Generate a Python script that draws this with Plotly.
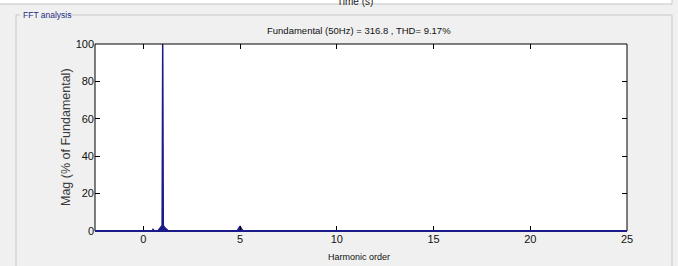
import plotly.graph_objects as go

# Data
harmonic_order = [0.0, 0.45, 0.5, 0.55, 0.75, 0.8, 0.9, 0.97, 1.0, 1.03, 1.1, 1.2, 1.3, 4.85, 4.95, 5.0, 5.05, 5.15, 25.0]
magnitude = [0.0, 0.0, 0.8, 0.0, 0.0, 0.6, 1.8, 3.0, 100.0, 3.0, 1.8, 0.6, 0.0, 0.0, 1.5, 2.6, 1.5, 0.0, 0.0]
x_ticks = [0, 5, 10, 15, 20, 25]
y_ticks = [0, 20, 40, 60, 80, 100]

NAVY = "#1a1a8a"
NARROW = "Liberation Sans, Arial, sans-serif"
REG = "Liberation Sans, Arial, sans-serif"

W, H = 678, 266
L, R, T, B = 95, 627, 44, 231

def px(x):
    return (x - L) / (R - L)

def py(y):
    return (B - y) / (B - T)

fig = go.Figure()
fig.add_trace(go.Scatter(
    x=harmonic_order, y=magnitude, mode="lines",
    line=dict(color=NAVY, width=1.5), fill="tozeroy", fillcolor=NAVY,
    hoverinfo="x+y", showlegend=False,
))

shapes = []
# plot frame
shapes.append(dict(type="rect", xref="paper", yref="paper", x0=0, x1=1, y0=0, y1=1,
                   line=dict(color="#000000", width=1), layer="above"))
# baseline
shapes.append(dict(type="line", xref="paper", yref="paper", x0=0, x1=1, y0=0, y1=0,
                   line=dict(color=NAVY, width=2), layer="above"))
# group box (FFT analysis)
gb = "#c8c8c8"
shapes.append(dict(type="line", xref="paper", yref="paper", x0=px(16), x1=px(16), y0=py(15), y1=py(270),
                   line=dict(color=gb, width=1)))
shapes.append(dict(type="line", xref="paper", yref="paper", x0=px(16), x1=px(20), y0=py(15), y1=py(15),
                   line=dict(color=gb, width=1)))
shapes.append(dict(type="line", xref="paper", yref="paper", x0=px(69), x1=px(672), y0=py(15), y1=py(15),
                   line=dict(color=gb, width=1)))
shapes.append(dict(type="line", xref="paper", yref="paper", x0=px(672), x1=px(672), y0=py(15), y1=py(270),
                   line=dict(color=gb, width=1)))
# previous panel edge at top
shapes.append(dict(type="line", xref="paper", yref="paper", x0=px(-5), x1=px(672), y0=py(4), y1=py(4),
                   line=dict(color=gb, width=1)))
shapes.append(dict(type="line", xref="paper", yref="paper", x0=px(672), x1=px(672), y0=py(-5), y1=py(4),
                   line=dict(color=gb, width=1)))
# top white strip of previous panel
shapes.append(dict(type="rect", xref="paper", yref="paper", x0=px(-5), x1=px(672), y0=py(3.5), y1=py(-5),
                   line=dict(width=0), fillcolor="#ffffff", layer="below"))

annotations = [
    dict(text="FFT analysis", xref="paper", yref="paper", x=px(21), y=py(15), xanchor="left", yanchor="middle",
         showarrow=False, font=dict(family=NARROW, size=8.5, color="#1e2a80")),
    dict(text="Time (s)", xref="paper", yref="paper", x=px(355), y=py(1.5), xanchor="center", yanchor="middle",
         showarrow=False, font=dict(family=NARROW, size=10, color="#222222")),
    dict(text="Fundamental (50Hz) = 316.8 , THD= 9.17%", xref="paper", yref="paper", x=px(359), y=py(31),
         xanchor="center", yanchor="middle", showarrow=False, font=dict(family=NARROW, size=9.5, color="#111111")),
    dict(text="Harmonic order", xref="paper", yref="paper", x=px(359), y=py(257),
         xanchor="center", yanchor="middle", showarrow=False, font=dict(family=NARROW, size=9, color="#111111")),
    dict(text="Mag (% of Fundamental)", xref="paper", yref="paper", x=px(66), y=py(137),
         xanchor="center", yanchor="middle", textangle=-90, showarrow=False,
         font=dict(family=REG, size=12.5, color="#3a3a3a")),
]

fig.update_layout(
    width=W, height=H,
    margin=dict(l=L, r=W - R, t=T, b=H - B, pad=0),
    paper_bgcolor="#f0f0f0", plot_bgcolor="#ffffff",
    shapes=shapes, annotations=annotations,
    font=dict(family=NARROW, size=10.5, color="#111111"),
    xaxis=dict(range=[-2.5, 25], tickvals=x_ticks, ticks="inside", ticklen=5, tickcolor="#000000",
               mirror="ticks", showgrid=False, zeroline=False, showline=False,
               tickfont=dict(family=NARROW, size=11)),
    yaxis=dict(range=[0, 100], tickvals=y_ticks, ticks="inside", ticklen=5, tickcolor="#000000",
               mirror="ticks", showgrid=False, zeroline=False, showline=False,
               tickfont=dict(family=NARROW, size=11)),
)

fig.write_html("out.html", config={"displayModeBar": False},
               post_script="document.body.style.margin='0';document.body.style.padding='0';")
